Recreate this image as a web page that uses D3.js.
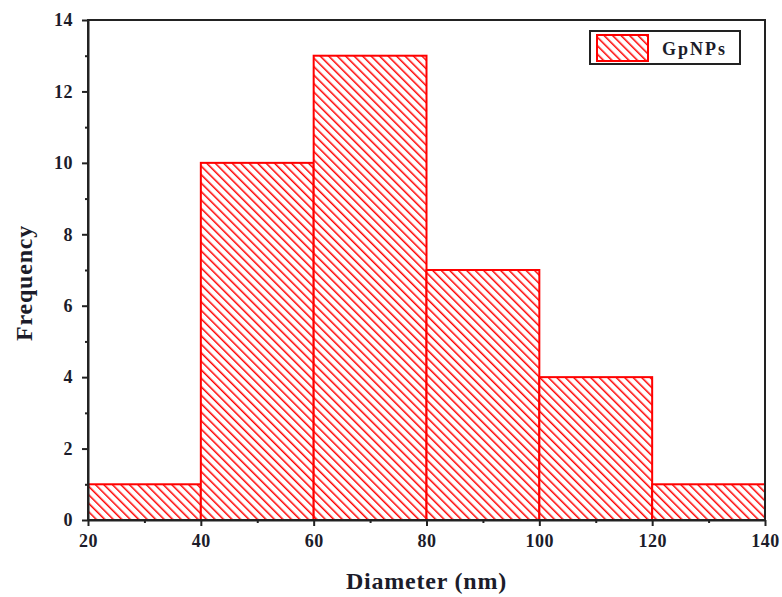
<!DOCTYPE html>
<html>
<head>
<meta charset="utf-8">
<script src="https://cdn.jsdelivr.net/npm/d3@7"></script>
<style>
  body { margin: 0; background: #fff; }
  text { font-family: "Liberation Serif", "DejaVu Serif", serif; font-weight: bold; }
</style>
</head>
<body>
<svg id="chart" width="782" height="597"></svg>
<script>
// histogram bins (nm) and counts
const binStarts = [20, 40, 60, 80, 100, 120];
const binWidth = 20;
const counts = [1, 10, 13, 7, 4, 1];
const xTicks = [20, 40, 60, 80, 100, 120, 140];
const yTicks = [0, 2, 4, 6, 8, 10, 12, 14];
const seriesName = "GpNPs";

const margin = { left: 88, right: 17, top: 20, bottom: 77 };
const W = 782, H = 597;

const svg = d3.select("#chart");

const x = d3.scaleLinear().domain([20, 140]).range([margin.left, W - margin.right]);
const y = d3.scaleLinear().domain([0, 14]).range([H - margin.bottom, margin.top]);

// diagonal hatch
const defs = svg.append("defs");
const pat = defs.append("pattern")
  .attr("id", "hatch")
  .attr("patternUnits", "userSpaceOnUse")
  .attr("width", 6).attr("height", 6)
  .attr("patternTransform", "rotate(-45)");
pat.append("rect").attr("width", 6).attr("height", 6).attr("fill", "#fff");
pat.append("line")
  .attr("x1", 0).attr("y1", 0).attr("x2", 0).attr("y2", 6)
  .attr("stroke", "#ff0000").attr("stroke-width", 3);

const bins = binStarts.map((s, i) => ({ x0: s, x1: s + binWidth, n: counts[i] }));

svg.append("g").selectAll("rect")
  .data(bins)
  .enter().append("rect")
  .attr("x", d => x(d.x0))
  .attr("y", d => y(d.n))
  .attr("width", d => x(d.x1) - x(d.x0))
  .attr("height", d => y(0) - y(d.n))
  .attr("fill", "url(#hatch)")
  .attr("stroke", "#ff0000")
  .attr("stroke-width", 2);

// frame
svg.append("rect")
  .attr("x", x(20)).attr("y", y(14))
  .attr("width", x(140) - x(20)).attr("height", y(0) - y(14))
  .attr("fill", "none").attr("stroke", "#222").attr("stroke-width", 2);

// x axis
svg.append("g")
  .attr("transform", `translate(0,${y(0)})`)
  .call(d3.axisBottom(x).tickValues(xTicks).tickSize(6).tickSizeOuter(0).tickPadding(8).tickFormat(d3.format("d")));
svg.append("g")
  .attr("transform", `translate(0,${y(0)})`)
  .call(d3.axisBottom(x).tickValues(d3.range(30, 140, 20)).tickSize(3).tickFormat(""))
  .call(g => g.select(".domain").remove());

// y axis
svg.append("g")
  .attr("transform", `translate(${x(20)},0)`)
  .call(d3.axisLeft(y).tickValues(yTicks).tickSize(6).tickSizeOuter(0).tickPadding(9));
svg.append("g")
  .attr("transform", `translate(${x(20)},0)`)
  .call(d3.axisLeft(y).tickValues(d3.range(1, 14, 2)).tickSize(3).tickFormat(""))
  .call(g => g.select(".domain").remove());

svg.selectAll(".tick line").attr("stroke", "#222").attr("stroke-width", 2);
svg.selectAll(".domain").attr("stroke", "#222").attr("stroke-width", 2);
svg.selectAll(".tick text")
  .attr("fill", "#1c1c2a")
  .style("font-size", "18px")
  .style("letter-spacing", "0.5px")
  .style("font-family", "'Liberation Serif', serif")
  .style("font-weight", "bold");

// axis titles
svg.append("text")
  .attr("x", (x(20) + x(140)) / 2)
  .attr("y", 589)
  .attr("text-anchor", "middle")
  .style("font-size", "24px")
  .style("letter-spacing", "0.8px")
  .attr("fill", "#1c1c2a")
  .text("Diameter (nm)");

svg.append("text")
  .attr("transform", `translate(32,283) rotate(-90)`)
  .attr("text-anchor", "middle")
  .style("font-size", "24px")
  .style("letter-spacing", "0.8px")
  .attr("fill", "#1c1c2a")
  .text("Frequency");

// legend
const lg = svg.append("g").attr("transform", "translate(590,31)");
lg.append("rect")
  .attr("width", 150).attr("height", 33)
  .attr("fill", "#fff").attr("stroke", "#222").attr("stroke-width", 2);
lg.append("rect")
  .attr("x", 7).attr("y", 4).attr("width", 51).attr("height", 26)
  .attr("fill", "url(#hatch)").attr("stroke", "#ff0000").attr("stroke-width", 2);
lg.append("text")
  .attr("x", 72).attr("y", 24)
  .style("font-size", "18px")
  .style("letter-spacing", "2px")
  .attr("fill", "#1c1c2a")
  .text(seriesName);
</script>
</body>
</html>
